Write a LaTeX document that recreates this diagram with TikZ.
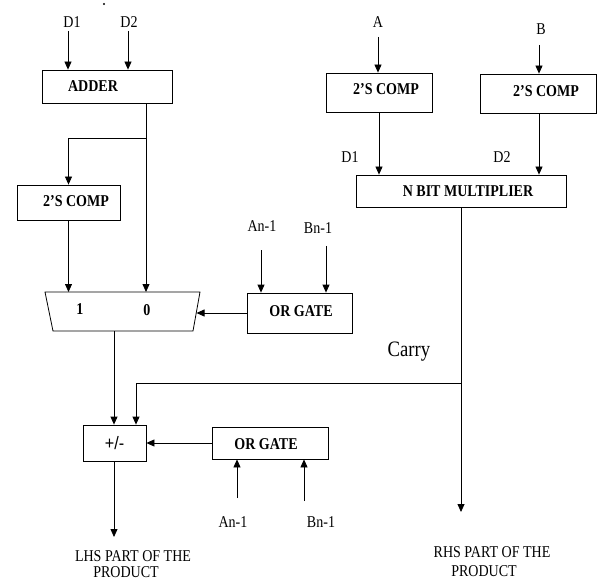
\documentclass[tikz,border=0pt]{standalone}
\usepackage{fontspec}
\setmainfont{Liberation Serif}[FakeStretch=0.85]
\newfontfamily\sansf{Liberation Sans}[FakeStretch=0.9]
\usetikzlibrary{arrows.meta}
\begin{document}
\begin{tikzpicture}[x=1pt,y=-1pt,line width=0.8pt,
  box/.style={draw,rectangle,inner sep=0pt},
  btxt/.style={inner sep=0pt,font=\fontsize{16.5}{18}\selectfont\bfseries},
  lbl/.style={inner sep=0pt,font=\fontsize{16.5}{18}\selectfont},
  arr/.style={-{Triangle[length=8pt,width=7pt]}}]
\useasboundingbox (0,0) rectangle (597,580);
\fill (104,4) circle (1.1);
% ---------- left top ----------
\node[lbl] (d1) at (72,22) {D1};
\node[lbl] (d2) at (129,22) {D2};
\node[box,minimum width=130,minimum height=33] (adder) at (107,86.5) {};
\node[btxt] (addert) at (93,86) {ADDER};
\coordinate (d1a) at (68,31);
\coordinate (d2a) at (128,31);
\draw[arr] (d1a) -- (d1a |- adder.north);
\draw[arr] (d2a) -- (d2a |- adder.north);
\node[box,minimum width=103,minimum height=35] (compL) at (68.5,202.5) {};
\node[btxt] (compLt) at (76,201) {2'S COMP};
% ---------- mux ----------
\coordinate (mTL) at (45,292);
\coordinate (mTR) at (200,292);
\coordinate (mBR) at (193,331);
\coordinate (mBL) at (53,331);
\draw (mTL) -- (mTR) -- (mBR) -- (mBL) -- cycle;
\node[btxt] (m1) at (80,309) {1};
\node[btxt] (m0) at (147,310) {0};
\coordinate (mR) at (196.5,313);
\coordinate (br) at (146,138);
\draw (br |- adder.south) -- (br);
\draw[arr] (br) -- (br |- mTL);
\draw[arr] (br) -| (compL.north);
\draw[arr] (compL.south) -- (compL.south |- mTL);
% ---------- OR gate 1 ----------
\node[box,minimum width=105,minimum height=40] (or1) at (299.5,313) {};
\node[btxt] (or1t) at (301,311) {OR GATE};
\node[lbl] (an1) at (262,226) {An-1};
\node[lbl] (bn1) at (318,228) {Bn-1};
\coordinate (an1a) at (261,250);
\coordinate (bn1a) at (326,246);
\draw[arr] (an1a) -- (an1a |- or1.north);
\draw[arr] (bn1a) -- (bn1a |- or1.north);
\draw[arr] (or1.west |- mR) -- (mR);
% ---------- right top ----------
\node[lbl] (A) at (378,22) {A};
\node[lbl] (B) at (541,29) {B};
\node[box,minimum width=106,minimum height=39] (compA) at (379,92.5) {};
\node[btxt] (compAt) at (386,89) {2'S COMP};
\node[box,minimum width=116,minimum height=39] (compB) at (538,93.5) {};
\node[btxt] (compBt) at (546,91) {2'S COMP};
\coordinate (aa) at (378,37);
\coordinate (ba) at (539,45);
\draw[arr] (aa) -- (aa |- compA.north);
\draw[arr] (ba) -- (ba |- compB.north);
\node[box,minimum width=210,minimum height=32] (mult) at (461,191) {};
\node[btxt] (multt) at (468,191) {N BIT MULTIPLIER};
\node[lbl] (md1) at (350,157) {D1};
\node[lbl] (md2) at (502,157) {D2};
\draw[arr] (compA.south) -- (compA.south |- mult.north);
\draw[arr] (ba |- compB.south) -- (ba |- mult.north);
% ---------- carry ----------
\node[inner sep=0pt,font=\fontsize{22}{24}\selectfont] (carry) at (409,352) {Carry};
\coordinate (cj) at (461,383);
\coordinate (cc) at (136,383);
\coordinate (rhsEnd) at (461,512);
\draw[arr] (mult.south) -- (rhsEnd);
\draw (cj) -- (cc);
% ---------- +/- ----------
\node[box,minimum width=63,minimum height=36,font=\sansf\fontsize{18}{20}\selectfont] (pm) at (114.5,443) {+/-};
\draw[arr] (cc) -- (cc |- pm.north);
\coordinate (mo) at (114,331);
\draw[arr] (mo) -- (mo |- pm.north);
\node[box,minimum width=116,minimum height=32] (or2) at (270,443) {};
\node[btxt] (or2t) at (266,444) {OR GATE};
\draw[arr] (or2.west) -- (pm.east);
\coordinate (an2a) at (237,498);
\coordinate (bn2a) at (304,501);
\draw[arr] (an2a) -- (an2a |- or2.south);
\draw[arr] (bn2a) -- (bn2a |- or2.south);
\node[lbl] (an2) at (233,522) {An-1};
\node[lbl] (bn2) at (321,522) {Bn-1};
\coordinate (lhsEnd) at (114,537);
\draw[arr] (pm.south -| mo) -- (lhsEnd);
% ---------- outputs ----------
\node[lbl] (lhs1) at (133,556) {LHS PART OF THE};
\node[lbl] (lhs2) at (126,572) {PRODUCT};
\node[lbl] (rhs1) at (492,552) {RHS PART OF THE};
\node[lbl] (rhs2) at (484,571) {PRODUCT};
\end{tikzpicture}
\end{document}
